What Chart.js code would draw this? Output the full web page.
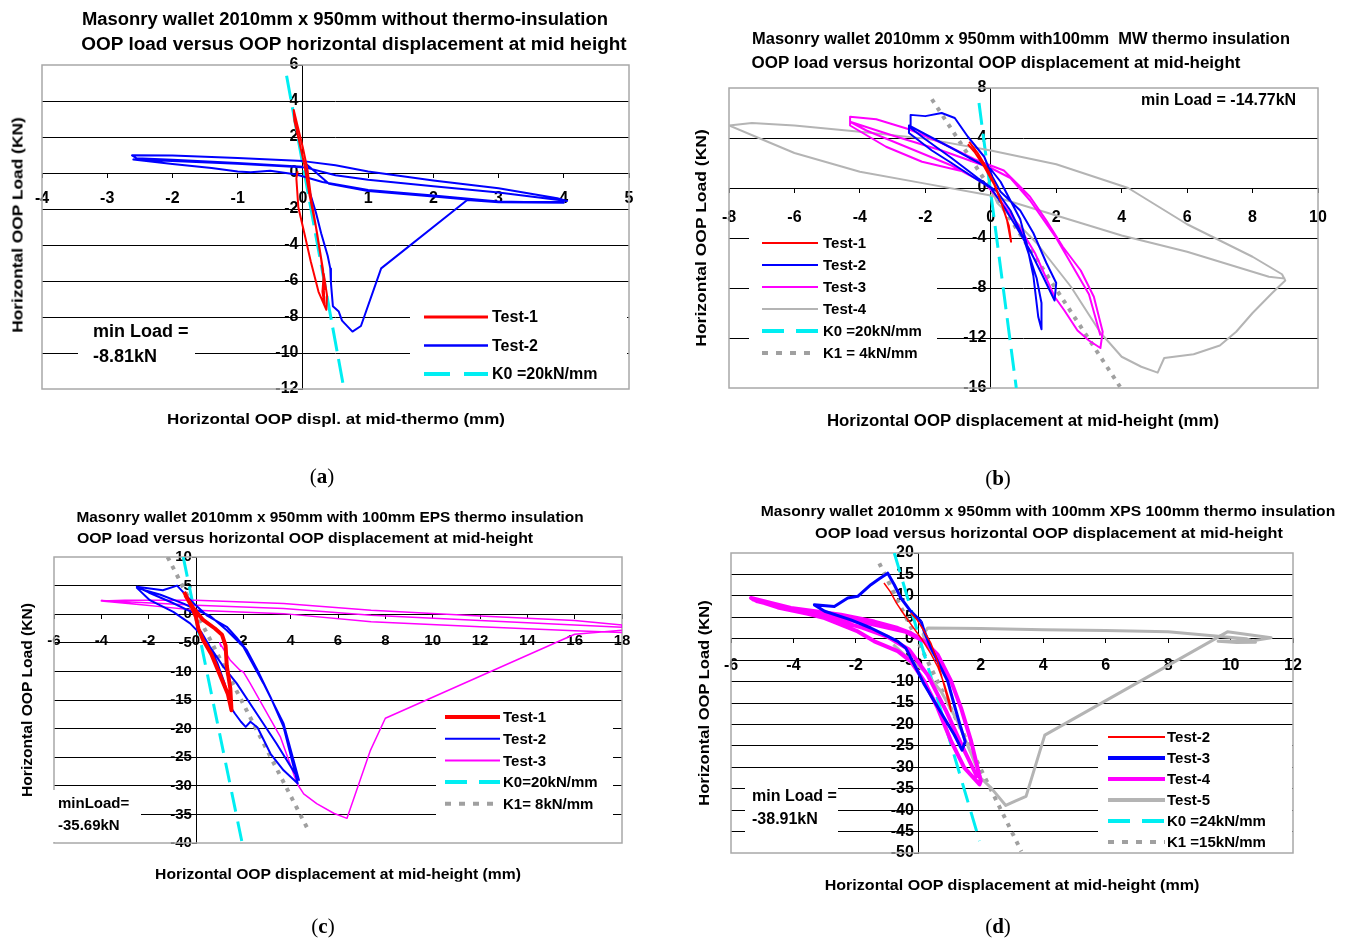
<!DOCTYPE html>
<html>
<head>
<meta charset="utf-8">
<title>OOP load versus OOP displacement</title>
<script src="https://cdn.jsdelivr.net/npm/chart.js@4.4.1/dist/chart.umd.min.js"></script>
<style>
  body { margin: 0; background: #fff; }
  #page { position: relative; width: 1347px; height: 941px; overflow: hidden;
          font-family: 'Liberation Sans Narrow', 'Liberation Sans', Arial, sans-serif; }
  canvas { position: absolute; }
  .t { position: absolute; white-space: nowrap; line-height: 1; font-weight: bold;
       transform: translate(-50%, -50%); }
  .cap { position: absolute; font-family: 'Liberation Serif', 'Times New Roman', serif;
         font-size: 21px; line-height: 1; transform: translate(-50%, -50%); }
</style>
</head>
<body>
<div id="page">
  <canvas id="chartA" width="673" height="470" style="left:0px;top:0px"></canvas>
  <canvas id="chartB" width="674" height="470" style="left:673px;top:0px"></canvas>
  <canvas id="chartC" width="673" height="471" style="left:0px;top:470px"></canvas>
  <canvas id="chartD" width="674" height="471" style="left:673px;top:470px"></canvas>

  <!-- (a) -->
  <div class="t" style="left:345px;top:19px;font-size:18px" data-w="526">Masonry wallet 2010mm x 950mm without thermo-insulation</div>
  <div class="t" style="left:354px;top:44px;font-size:18px" data-w="545">OOP load versus OOP horizontal displacement at mid height</div>
  <div class="t v" style="left:17px;top:225px;font-size:15px" data-w="215">Horizontal OOP Load (KN)</div>
  <div class="t" style="left:336px;top:418px;font-size:15px" data-w="338">Horizontal OOP displ. at mid-thermo (mm)</div>
  <div class="cap" style="left:322px;top:476px">(<b>a</b>)</div>

  <!-- (b) -->
  <div class="t" style="left:1021px;top:39px;font-size:16px" data-w="538">Masonry wallet 2010mm x 950mm with100mm&nbsp; MW thermo insulation</div>
  <div class="t" style="left:996px;top:63px;font-size:16px" data-w="489">OOP load versus horizontal OOP displacement at mid-height</div>
  <div class="t v" style="left:700px;top:238px;font-size:15px" data-w="217">Horizontal OOP Load (KN)</div>
  <div class="t" style="left:1023px;top:421px;font-size:16px" data-w="392">Horizontal OOP displacement at mid-height (mm)</div>
  <div class="cap" style="left:998px;top:478px">(<b>b</b>)</div>

  <!-- (c) -->
  <div class="t" style="left:330px;top:516px;font-size:15px" data-w="507">Masonry wallet 2010mm x 950mm with 100mm EPS thermo insulation</div>
  <div class="t" style="left:305px;top:537px;font-size:15px" data-w="456">OOP load versus horizontal OOP displacement at mid-height</div>
  <div class="t v" style="left:27px;top:700px;font-size:14px" data-w="194">Horizontal OOP Load (KN)</div>
  <div class="t" style="left:338px;top:873px;font-size:15px" data-w="366">Horizontal OOP displacement at mid-height (mm)</div>
  <div class="cap" style="left:323px;top:926px">(<b>c</b>)</div>

  <!-- (d) -->
  <div class="t" style="left:1048px;top:510px;font-size:15px" data-w="574">Masonry wallet 2010mm x 950mm with 100mm XPS 100mm thermo insulation</div>
  <div class="t" style="left:1049px;top:532px;font-size:15px" data-w="468">OOP load versus horizontal OOP displacement at mid-height</div>
  <div class="t v" style="left:703px;top:703px;font-size:15px" data-w="205">Horizontal OOP Load (KN)</div>
  <div class="t" style="left:1012px;top:884px;font-size:15px" data-w="375">Horizontal OOP displacement at mid-height (mm)</div>
  <div class="cap" style="left:998px;top:926px">(<b>d</b>)</div>
</div>

<script>
// ---- (a) wallet without insulation ----
const aXAxis = [-4, 5, 1];      // min, max, step
const aYAxis = [-12, 6, 2];
const aLabels = ['Test-1', 'Test-2', 'K0 =20kN/mm'];
const aTest1 = [[-0.08,0.1],[-0.1,-0.3],[-0.07,-1.9],[0.02,-3.3],[0.12,-4.9],[0.24,-6.6],[0.36,-7.6],[0.37,-6.8],
  [0.32,-5.6],[0.3,-6.6],[0.33,-7.3],[0.31,-5.4],[0.22,-3.4],[0.13,-1.5],[0.07,0.2],[0.0,1.4],[-0.08,2.6],
  [-0.14,3.5],[-0.13,2.9],[-0.06,1.8],[0.02,0.5],[0.1,-1.2],[0.2,-3.0],[0.28,-4.8],[0.34,-6.5]];
const aTest2 = [[0.0,0.35],[-1,0.56],[-2,0.74],[-2.55,0.82],[-2.62,0.98],[-2,0.97],[-1,0.84],[0,0.66],[0.5,0.43],
  [1,0.08],[2,-0.42],[3,-0.85],[3.9,-1.4],[4.05,-1.55],[3,-1.08],[2,-0.73],[1,-0.38],[0.5,-0.12],[0.05,0.3],
  [-1,0.52],[-2,0.66],[-2.6,0.75],[-2,0.5],[-1.4,0.28],[-1,0.08],[-0.8,0.04],[-0.5,0.12],[-0.1,-0.08],[0.3,-0.5],
  [1,-0.95],[2,-1.25],[3,-1.58],[4,-1.65],[3,-1.62],[2,-1.3],[1,-1.0],[0.4,-0.6],[0.05,0.5],[0.1,-1.0],[0.2,-2.2],
  [0.28,-3.35],[0.38,-4.6],[0.42,-5.3],[0.43,-6.1],[0.46,-7.4],[0.55,-7.7],[0.6,-8.2],[0.76,-8.81],[0.89,-8.5],
  [1.2,-5.3],[2.52,-1.5],[3,-1.62],[4,-1.6]];
const aK0 = [[-0.25,5.4],[0.63,-12.0]];

// ---- (b) 100mm MW insulation ----
const bXAxis = [-8, 10, 2];
const bYAxis = [-16, 8, 4];
const bLabels = ['Test-1', 'Test-2', 'Test-3', 'Test-4', 'K0 =20kN/mm', 'K1 = 4kN/mm'];
const bTest1 = [[-0.66,3.7],[-0.4,2.8],[-0.1,1.5],[0.15,0.1],[0.35,-1.4],[0.55,-3.0],[0.62,-4.3],[0.5,-2.6],
  [0.3,-1.0],[0.1,0.3],[-0.2,1.7],[-0.5,2.9],[-0.7,3.5]];
const bTest2 = [[0,0],[-0.5,0.8],[-1.2,2.0],[-1.8,3.0],[-2.5,4.4],[-2.5,5.0],[-2.0,4.3],[-1.2,3.2],[-0.5,2.2],
  [0,1.5],[0.3,0.5],[0.6,-1.0],[0.9,-2.5],[1.1,-4.5],[1.3,-7.0],[1.45,-10.3],[1.55,-11.3],[1.55,-9.2],[1.4,-7.2],
  [1.0,-4.0],[0.6,-1.8],[0.2,-0.3],[-0.4,0.8],[-1.2,2.4],[-2.0,3.9],[-2.45,4.8],[-2.45,5.85],[-2.0,5.75],
  [-1.5,6.0],[-1.1,5.6],[-0.7,4.1],[-0.2,2.5],[0.05,0.9],[0.3,-0.3],[0.9,-1.8],[1.3,-3.6],[1.7,-6.0],[2.0,-7.6],
  [1.95,-9.0],[1.6,-7.1],[1.2,-5.0],[0.8,-3.2],[0.4,-1.5],[0,0]];
const bTest3 = [[0,0],[-0.8,1.3],[-2.1,2.1],[-3.2,3.3],[-4.3,5.0],[-4.3,5.7],[-3.5,5.5],[-2.5,4.7],[-1.5,3.6],
  [-0.5,2.3],[0.4,1.4],[0.9,0.1],[1.2,-0.7],[1.7,-2.6],[2.2,-4.7],[2.75,-6.6],[3.15,-8.7],[3.42,-11.5],
  [3.35,-12.8],[3.0,-12.2],[2.65,-11.4],[2.25,-9.8],[1.95,-8.7],[1.35,-5.2],[0.8,-2.8],[0.3,-1.0],[-0.2,0.4],
  [-1.2,1.8],[-2.5,3.2],[-3.8,4.6],[-4.3,5.3],[-3,4.2],[-1.5,3.0],[0,1.6],[0.6,0.8],[1.2,-1.0],[2.0,-4.0],
  [3.0,-8.5],[3.35,-11.8]];
const bTest4 = [[0,0],[0.2,-1.2],[1.4,-4.4],[2.45,-7.9],[3.36,-11.6],[4.0,-13.5],[4.6,-14.3],[5.1,-14.77],
  [5.3,-13.6],[6.2,-13.3],[7.0,-12.6],[7.5,-11.5],[8.0,-10.0],[8.6,-8.4],[9.0,-7.4],[8.9,-6.9],[8.0,-5.5],
  [6.0,-2.9],[4.2,0.0],[2.0,1.9],[0,3.0],[-2,3.95],[-4,4.5],[-6,5.0],[-7.3,5.2],[-8.0,5.0],[-7.0,3.9],
  [-6.0,2.8],[-4.0,1.3],[-2.0,0.35],[0,-0.6],[2,-2.2],[4,-3.8],[6,-5.1],[7.5,-6.3],[8.5,-7.1],[9.0,-7.25]];
const bK0 = [[-0.36,6.8],[0.78,-16]];
const bK1 = [[-1.8,7.1],[3.95,-15.9]];

// ---- (c) 100mm EPS insulation ----
const cXAxis = [-6, 18, 2];
const cYAxis = [-40, 10, 5];
const cLabels = ['Test-1', 'Test-2', 'Test-3', 'K0=20kN/mm', 'K1= 8kN/mm'];
const cTest1 = [[-0.5,3.9],[-0.35,2.6],[-0.1,1.0],[0.3,-1.0],[0.8,-2.5],[1.1,-3.6],[1.25,-5.5],[1.3,-9.0],
  [1.45,-13.0],[1.5,-16.8],[1.35,-14.0],[1.05,-11.0],[0.65,-7.0],[0.3,-4.5],[0.1,-2.5],[0.0,-0.5],[-0.2,1.5],
  [-0.45,3.3]];
const cTest2 = [[0,0],[-1.0,2.0],[-2.0,3.8],[-2.5,4.8],[-1.4,4.2],[-0.8,5.0],[-0.1,1.9],[0.45,-0.2],[1.3,-2.2],
  [1.7,-4.0],[2.15,-6.3],[2.6,-9.8],[3.15,-14.5],[3.7,-19.7],[4.3,-29.6],[3.7,-27.3],[3.15,-24.4],[2.6,-19.8],
  [2.3,-18.8],[2.1,-19.7],[1.9,-18.8],[1.65,-17.4],[1.5,-16.5],[1.2,-12],[0.9,-8.5],[0.5,-5],[0.17,-3.4],
  [-0.25,-1.6],[-0.96,0.4],[-1.95,2.45],[-2.5,4.6],[-1.5,3.4],[-0.5,1.8],[0.03,0.7],[0.6,-0.3],[1.3,-2.8],
  [2.0,-5.7],[2.85,-12.1],[3.7,-19.1],[4.35,-29],[3.4,-22.6],[2.57,-17.4],[1.72,-12.1],[1.16,-9.2],[0.59,-5.7],
  [0.2,-3.0]];
const cTest3 = [[0,0.7],[-1.4,1.28],[-4,2.3],[-3,2.45],[0,2.45],[3.7,1.86],[7.4,0.7],[12,-0.3],[16,-1.1],
  [18,-1.9],[18,-2.3],[16,-1.9],[12,-1.1],[7.4,-0.17],[3.7,1.0],[0,1.57],[-4,2.4],[-1.4,1.28],[0,0.7],
  [3.7,0.1],[7.4,-1.34],[12,-2.2],[16,-2.9],[18,-3.2], null,
  [1.0,-4.9],[1.05,-5.6],[1.0,-5.0],[1.44,-8.0],[1.86,-9.8],[2.0,-10.1],[2.29,-12.1],[2.85,-16.2],[3.56,-21.4],
  [4.27,-29.6],[4.55,-31.4],[5.1,-33.1],[5.82,-34.8],[6.38,-35.69],[7.37,-23.8],[8.0,-18.2],[16,-3.5],[18,-2.8]];
const cK0 = [[-0.54,10],[1.95,-40]];
const cK1 = [[-1.2,10],[4.8,-38.2]];

// ---- (d) 100mm XPS insulation ----
const dXAxis = [-6, 12, 2];
const dYAxis = [-50, 20, 5];
const dLabels = ['Test-2', 'Test-3', 'Test-4', 'Test-5', 'K0 =24kN/mm', 'K1 =15kN/mm'];
const dTest2 = [[-1.1,13],[-0.9,11],[-0.7,8.3],[-0.45,5.6],[-0.2,3.0],[0.1,0.0],[0.4,-3.5],[0.62,-6.5],
  [0.85,-11],[1.0,-14.5],[1.05,-17],[0.9,-13],[0.62,-5.3],[0.4,-1.0],[0.19,1.7],[-0.05,4.5],[-0.24,6.0]];
const dTest3 = [[0.09,4.0],[-0.24,6.4],[-0.56,9.5],[-0.77,12.6],[-0.98,15.3],[-1.25,14.0],[-1.52,12.6],
  [-1.94,9.9],[-2.26,9.5],[-2.69,7.5],[-3.33,7.9],[-3.0,6.4],[-2.16,4.4],[-1.52,2.5],[-1.09,0.94],[-0.66,-0.6],
  [-0.4,-2.2],[-0.24,-4.5],[-0.02,-7.6],[0.19,-10.7],[0.51,-14.6],[0.83,-18.5],[1.15,-22.4],[1.4,-26.0],
  [1.5,-24],[1.35,-20.5],[1.15,-15.4],[0.94,-9.9],[0.62,-5.3],[0.41,-2.2],[0.19,1.7],[0.09,4.0]];
const dTest4 = [[0.19,-0.6],[-0.24,1.3],[-0.66,2.5],[-1.41,4.0],[-2.48,5.6],[-4.08,7.2],[-5.36,9.5],[-5.15,8.7],
  [-4.08,6.8],[-3.0,4.8],[-1.94,1.7],[-1.41,-0.6],[-0.66,-2.9],[-0.24,-5.3],[0.19,-9.9],[0.62,-16.2],[1.05,-23.9],
  [1.47,-30.1],[1.96,-34.0],[2.0,-33.2],[1.69,-23.9],[1.37,-16.2],[1.05,-9.9],[0.62,-3.7],[0.19,-0.6],[-0.4,1.6],
  [-1.5,3.4],[-3,5.4],[-4.5,7.6],[-5.3,9.2],[-4.5,7.3],[-3,5.0],[-1.8,2.6],[-1,0.5],[-0.3,-2.5],[0.3,-8.5],
  [0.9,-17],[1.4,-25],[1.9,-32.5]];
const dTest5 = [[-0.8,-1.4],[-0.45,-3.7],[0.2,-7.6],[0.73,-12.3],[1.26,-19.3],[1.7,-27],[2.0,-32.5],[2.33,-34.8],
  [2.8,-38.91],[3.1,-37.9],[3.45,-36.8],[4.05,-22.5],[9.9,1.6],[11.3,0.2],[10.7,-0.5],[9.6,-0.6],[10.2,-0.9],
  [10.8,-0.8],[10.5,0.0],[8.0,1.6],[6.0,1.9],[4.0,2.1],[2.0,2.4],[0.3,2.5],[0.15,1.0],[0.3,-2.0],[0.8,-6.0]];
const dK0 = [[-0.77,20],[1.96,-47.2]];
const dK1 = [[-1.25,17.6],[3.3,-49.6]];

const FONT = "'Liberation Sans Narrow', 'Liberation Sans', Arial, sans-serif";
const RED = '#ff0000', BLUE = '#0000ff', MAGENTA = '#ff00ff', GREY = '#b4b4b4', CYAN = '#00eef2', DOTS = '#a0a0a0';
const CYAN_DASH = [22, 9], DOT_DASH = [4, 6];

function fmtMin(points) {
  const min = Math.min(...points.filter(p => p).map(p => p[1]));
  return min.toFixed(2) + 'kN';
}

// grey plot frame, white boxes, in-plot legend and notes
const panelDecor = {
  id: 'panelDecor',
  beforeDatasetsDraw(chart, args, opts) {
    const a = chart.chartArea, ctx = chart.ctx;
    ctx.save();
    ctx.strokeStyle = '#a8a8a8';
    ctx.lineWidth = 1.5;
    ctx.strokeRect(a.left, a.top, a.right - a.left, a.bottom - a.top);
    ctx.restore();
  },
  afterDatasetsDraw(chart, args, opts) {
    const ctx = chart.ctx;
    const [ox, oy] = opts.origin;
    ctx.save();
    ctx.fillStyle = '#fff';
    opts.boxes.forEach(b => ctx.fillRect(b[0] - ox, b[1] - oy, b[2], b[3]));

    const lg = opts.legend;
    ctx.textBaseline = 'middle';
    ctx.textAlign = 'left';
    ctx.font = 'bold ' + lg.size + 'px ' + FONT;
    chart.data.datasets.forEach((ds, i) => {
      const y = lg.y - oy + i * lg.row;
      const x = lg.x - ox;
      ctx.beginPath();
      ctx.strokeStyle = ds.borderColor;
      ctx.lineWidth = ds.legendWidth || ds.borderWidth;
      ctx.lineCap = 'butt';
      ctx.setLineDash(ds.legendDash || ds.borderDash || []);
      ctx.moveTo(x, y);
      ctx.lineTo(x + lg.len, y);
      ctx.stroke();
      ctx.setLineDash([]);
      ctx.fillStyle = '#000';
      ctx.fillText(ds.label, x + lg.len + lg.gap, y + 1);
    });

    opts.notes.forEach(n => {
      ctx.font = 'bold ' + n.size + 'px ' + FONT;
      ctx.fillStyle = '#000';
      n.lines.forEach((t, j) => ctx.fillText(t, n.x - ox, n.y - oy + j * n.row));
    });
    ctx.restore();
  }
};

function buildChart(spec) {
  const canvas = document.getElementById(spec.canvas);
  const [ox, oy] = spec.origin;
  const [l, t, r, b] = spec.area;
  const tickFont = { family: FONT, size: spec.tickSize, weight: 'bold' };
  const [xMin, xMax, xStep] = spec.x;
  const [yMin, yMax, yStep] = spec.y;

  return new Chart(canvas, {
    type: 'scatter',
    data: {
      datasets: spec.sets.map(s => ({
        label: s.label,
        data: s.data.map(p => p ? { x: p[0], y: p[1] } : { x: null, y: null }),
        showLine: true,
        spanGaps: false,
        borderColor: s.color,
        backgroundColor: s.color,
        borderWidth: s.width,
        borderDash: s.dash || [],
        legendDash: s.legendDash,
        legendWidth: s.legendWidth,
        borderCapStyle: 'butt',
        borderJoinStyle: 'round',
        pointRadius: 0,
        tension: 0
      }))
    },
    options: {
      responsive: false,
      animation: false,
      events: [],
      layout: { padding: { left: l - ox, top: t - oy, right: ox + canvas.width - r, bottom: oy + canvas.height - b } },
      plugins: {
        legend: { display: false },
        tooltip: { enabled: false },
        panelDecor: { origin: spec.origin, boxes: spec.boxes, legend: spec.legend, notes: spec.notes }
      },
      scales: {
        x: {
          type: 'linear',
          position: { y: 0 },
          min: xMin, max: xMax,
          ticks: { stepSize: xStep, autoSkip: false, maxRotation: 0, font: tickFont, color: '#000', padding: spec.xPad },
          grid: { drawOnChartArea: false, tickLength: 4, tickColor: '#000' },
          border: { color: '#000', width: 1 }
        },
        y: {
          type: 'linear',
          position: { x: 0 },
          min: yMin, max: yMax,
          // trailing space keeps the numbers clear of the axis line
          ticks: { stepSize: yStep, autoSkip: false, font: tickFont, color: '#000', callback: v => v + ' ' },
          grid: {
            color: c => (c.tick && (c.tick.value === yMin || c.tick.value === yMax)) ? 'rgba(0,0,0,0)' : '#000',
            lineWidth: 1, tickLength: 4, tickColor: '#000'
          },
          border: { color: '#000', width: 1 }
        }
      }
    },
    plugins: [panelDecor]
  });
}

buildChart({
  canvas: 'chartA', origin: [0, 0], area: [42, 65, 629, 389],
  x: aXAxis, y: aYAxis, tickSize: 16, xPad: 12,
  sets: [
    { label: aLabels[0], data: aTest1, color: RED, width: 2, legendWidth: 3 },
    { label: aLabels[1], data: aTest2, color: BLUE, width: 2, legendWidth: 2.5 },
    { label: aLabels[2], data: aK0, color: CYAN, width: 3, dash: [24, 8], legendDash: [26, 14], legendWidth: 4 }
  ],
  boxes: [[410, 306, 217, 82], [78, 320, 117, 52]],
  legend: { x: 424, y: 317, row: 28.5, len: 64, gap: 4, size: 16 },
  notes: [{ x: 93, y: 332, row: 25, size: 18, lines: ['min Load =', fmtMin(aTest2)] }]
});

buildChart({
  canvas: 'chartB', origin: [673, 0], area: [729, 88, 1318, 388],
  x: bXAxis, y: bYAxis, tickSize: 16, xPad: 16,
  sets: [
    { label: bLabels[0], data: bTest1, color: RED, width: 2 },
    { label: bLabels[1], data: bTest2, color: BLUE, width: 2 },
    { label: bLabels[2], data: bTest3, color: MAGENTA, width: 2 },
    { label: bLabels[3], data: bTest4, color: GREY, width: 2 },
    { label: bLabels[4], data: bK0, color: CYAN, width: 3, dash: CYAN_DASH, legendDash: [22, 12], legendWidth: 4 },
    { label: bLabels[5], data: bK1, color: DOTS, width: 4, dash: DOT_DASH, legendDash: [6, 8] }
  ],
  boxes: [[749, 228, 188, 134], [1132, 90, 178, 24]],
  legend: { x: 762, y: 243, row: 22, len: 56, gap: 5, size: 15 },
  notes: [{ x: 1141, y: 101, row: 0, size: 16, lines: ['min Load = ' + fmtMin(bTest4)] }]
});

buildChart({
  canvas: 'chartC', origin: [0, 470], area: [54, 557, 622, 843],
  x: cXAxis, y: cYAxis, tickSize: 15, xPad: 14,
  sets: [
    { label: cLabels[0], data: cTest1, color: RED, width: 4 },
    { label: cLabels[1], data: cTest2, color: BLUE, width: 2 },
    { label: cLabels[2], data: cTest3, color: MAGENTA, width: 1.5, legendWidth: 2 },
    { label: cLabels[3], data: cK0, color: CYAN, width: 3, dash: [20, 10], legendDash: [22, 12], legendWidth: 4 },
    { label: cLabels[4], data: cK1, color: DOTS, width: 4, dash: DOT_DASH, legendDash: [6, 8] }
  ],
  boxes: [[436, 705, 177, 137], [53, 790, 88, 52]],
  legend: { x: 445, y: 717, row: 21.7, len: 55, gap: 3, size: 15 },
  notes: [{ x: 58, y: 804, row: 22, size: 15, lines: ['minLoad=', fmtMin(cTest3)] }]
});

buildChart({
  canvas: 'chartD', origin: [673, 470], area: [731, 553, 1293, 853],
  x: dXAxis, y: dYAxis, tickSize: 16, xPad: 13,
  sets: [
    { label: dLabels[0], data: dTest2, color: RED, width: 1.5, legendWidth: 2 },
    { label: dLabels[1], data: dTest3, color: BLUE, width: 3, legendWidth: 4 },
    { label: dLabels[2], data: dTest4, color: MAGENTA, width: 4 },
    { label: dLabels[3], data: dTest5, color: GREY, width: 3, legendWidth: 4 },
    { label: dLabels[4], data: dK0, color: CYAN, width: 3, dash: [20, 10], legendDash: [22, 12], legendWidth: 4 },
    { label: dLabels[5], data: dK1, color: DOTS, width: 4, dash: DOT_DASH, legendDash: [6, 8] }
  ],
  boxes: [[1098, 727, 194, 125], [745, 783, 93, 55]],
  legend: { x: 1108, y: 737, row: 21, len: 57, gap: 2, size: 15 },
  notes: [{ x: 752, y: 797, row: 23, size: 16, lines: ['min Load =', fmtMin(dTest5)] }]
});

// squeeze each heading to its measured width
document.querySelectorAll('.t').forEach(el => {
  const k = el.dataset.w / el.offsetWidth;
  const rot = el.classList.contains('v') ? ' rotate(-90deg)' : '';
  el.style.transform = 'translate(-50%, -50%)' + rot + ' scaleX(' + k.toFixed(3) + ')';
});
</script>
</body>
</html>
